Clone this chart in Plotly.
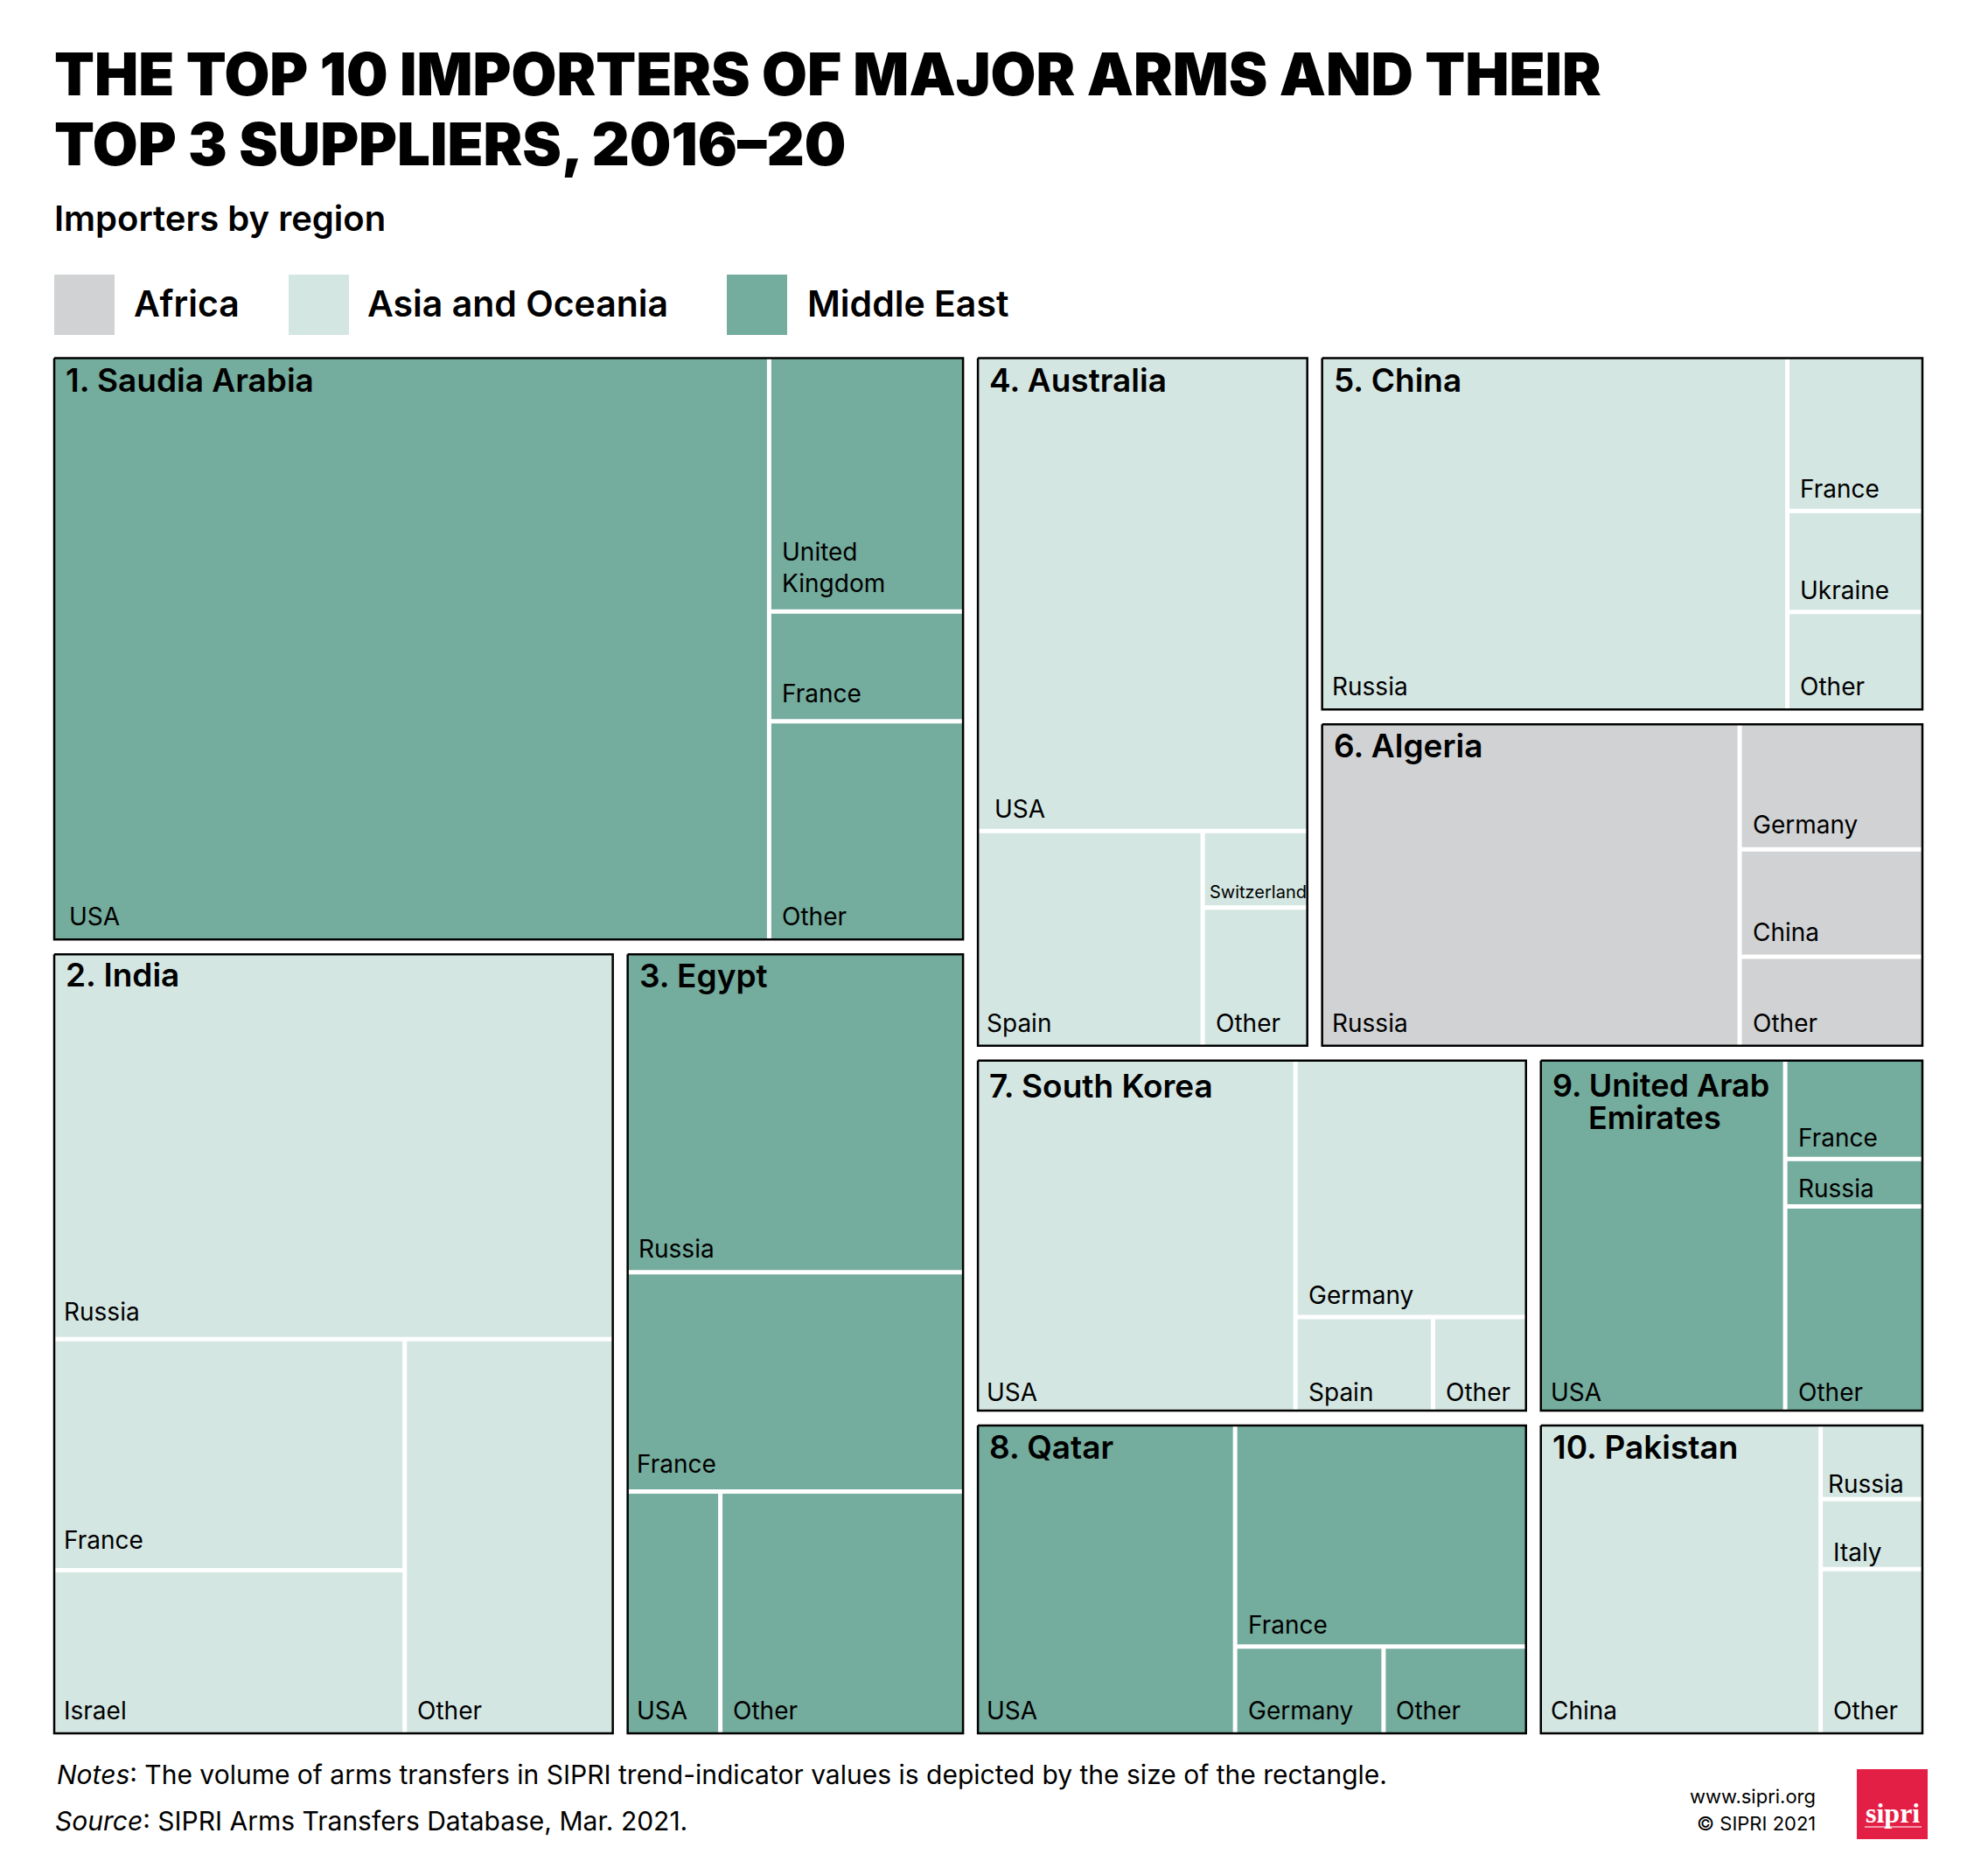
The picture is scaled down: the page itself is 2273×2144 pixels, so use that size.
import plotly.graph_objects as go

# canvas size in px, axes run 1:1 with the page
WIDTH = 2273
HEIGHT = 2144

COLORS = {"Africa": "#d1d2d4", "Asia and Oceania": "#d4e6e2", "Middle East": "#74ac9d"}
REGIONS = ["Africa", "Asia and Oceania", "Middle East"]

IMPORTERS = ["1. Saudia Arabia", "2. India", "3. Egypt", "4. Australia", "5. China",
             "6. Algeria", "7. South Korea", "8. Qatar", "9. United Arab Emirates", "10. Pakistan"]
IMPORTER_REGION = ["Middle East", "Asia and Oceania", "Middle East", "Asia and Oceania",
                   "Asia and Oceania", "Africa", "Asia and Oceania", "Middle East",
                   "Middle East", "Asia and Oceania"]
# rectangle sizes
IMPORTER_SIZE = [11.0, 9.21, 5.53, 4.79, 4.56, 4.17, 4.15, 3.65, 2.89, 2.54]

# supplier shares of each importer (%)
SAUDI = {"USA": 78.8, "United Kingdom": 9.3, "France": 3.9, "Other": 8.0}
INDIA = {"Russia": 49.4, "France": 18.6, "Israel": 13.2, "Other": 18.8}
EGYPT = {"Russia": 41.0, "France": 27.9, "USA": 8.5, "Other": 22.6}
AUSTRALIA = {"USA": 68.9, "Spain": 21.3, "Switzerland": 3.4, "Other": 6.4}
CHINA = {"Russia": 77.7, "France": 9.8, "Ukraine": 6.3, "Other": 6.2}
ALGERIA = {"Russia": 69.7, "Germany": 11.9, "China": 10.0, "Other": 8.4}
SOUTH_KOREA = {"USA": 58.0, "Germany": 30.9, "Spain": 6.6, "Other": 4.5}
QATAR = {"USA": 46.9, "France": 38.3, "Germany": 7.5, "Other": 7.3}
UAE = {"USA": 64.2, "France": 10.1, "Russia": 4.5, "Other": 21.2}
PAKISTAN = {"China": 73.6, "Russia": 6.3, "Italy": 5.8, "Other": 14.3}
SUPPLIERS = [SAUDI, INDIA, EGYPT, AUSTRALIA, CHINA, ALGERIA, SOUTH_KOREA, QATAR, UAE, PAKISTAN]

# how the rectangles nest: "h" = side by side, "v" = stacked
IMPORTER_TREE = ("h", ("v", 0, ("h", 1, 2)),
                 ("v", ("h", 3, ("v", 4, 5)),
                  ("h", ("v", 6, 7), ("v", 8, 9))))
SUPPLIER_TREES = [
    ("h", 0, ("v", 1, 2, 3)),
    ("v", 0, ("h", ("v", 1, 2), 3)),
    ("v", 0, 1, ("h", 2, 3)),
    ("v", 0, ("h", 1, ("v", 2, 3))),
    ("h", 0, ("v", 1, 2, 3)),
    ("h", 0, ("v", 1, 2, 3)),
    ("h", 0, ("v", 1, ("h", 2, 3))),
    ("h", 0, ("v", 1, ("h", 2, 3))),
    ("h", 0, ("v", 1, 2, 3)),
    ("h", 0, ("v", 1, 2, 3)),
]

BOX = (62, 409.5, 2198, 1982)
IMPORTER_GAP = 17
SUPPLIER_GAP = 5

LABEL_FONT = "Inter"


def size_of(node, sizes):
    if isinstance(node, int):
        return sizes[node]
    return sum(size_of(c, sizes) for c in node[1:])


def layout_tree(node, rect, sizes, gap, out):
    if isinstance(node, int):
        out[node] = rect
        return
    x0, y0, x1, y1 = rect
    kids = node[1:]
    total = sum(size_of(k, sizes) for k in kids)
    room = (x1 - x0 if node[0] == "h" else y1 - y0) - gap * (len(kids) - 1)
    pos = x0 if node[0] == "h" else y0
    for k in kids:
        span = room * size_of(k, sizes) / total
        if node[0] == "h":
            layout_tree(k, (pos, y0, pos + span, y1), sizes, gap, out)
        else:
            layout_tree(k, (x0, pos, x1, pos + span), sizes, gap, out)
        pos += span + gap


def rect_trace(rect, fill=None, line=None, width=0, text=""):
    x0, y0, x1, y1 = rect
    return go.Scatter(
        x=[x0, x1, x1, x0, x0], y=[y0, y0, y1, y1, y0], mode="lines",
        fill="toself" if fill else "none", fillcolor=fill,
        line=dict(color=line or fill, width=width),
        hoverinfo="text" if text else "skip", text=text, showlegend=False
    )


fig = go.Figure()
annotations = []


def add_text(x, y, text, size, xanchor="left", yanchor="middle", color="black", weight=400, family=LABEL_FONT):
    annotations.append(dict(
        x=x, y=y, xref="x", yref="y", text=text, showarrow=False, xanchor=xanchor, yanchor=yanchor,
        align="left" if xanchor == "left" else "right", borderpad=0, borderwidth=0,
        font=dict(family=family, size=size, color=color, weight=weight)
    ))


# label nudges in px: (importer index, supplier) -> dx from cell left, dy from cell bottom
LABEL_DX = {
    (0, "USA"): 17, (1, "Russia"): 11, (1, "France"): 11, (1, "Israel"): 11,
    (2, "France"): 10, (2, "USA"): 10, (3, "USA"): 19, (3, "Spain"): 10, (3, "Switzerland"): 5,
    (4, "Russia"): 11, (5, "Russia"): 11, (6, "USA"): 10, (7, "USA"): 10, (8, "USA"): 11,
    (9, "China"): 11, (9, "Russia"): 6,
}
LABEL_DY = {
    (0, "United Kingdom"): -4, (0, "France"): -3,
    (4, "France"): 3, (4, "Ukraine"): 4, (3, "USA"): 3, (3, "Switzerland"): 6,
    (1, "Russia"): -3, (1, "France"): -6, (2, "Russia"): 2, (2, "France"): -3,
    (6, "Germany"): 4, (6, "USA"): 5, (6, "Spain"): 5, (6, "Other"): 5,
    (8, "USA"): 5, (8, "Other"): 5, (8, "France"): 4, (8, "Russia"): 8,
    (7, "France"): 4, (9, "Russia"): 11, (9, "Italy"): 9,
}
NAME_DY = {1: -1, 6: 4, 8: 4}

importer_rects = {}
layout_tree(IMPORTER_TREE, BOX, IMPORTER_SIZE, IMPORTER_GAP, importer_rects)

for i, name in enumerate(IMPORTERS):
    rect = importer_rects[i]
    fill = COLORS[IMPORTER_REGION[i]]
    names = list(SUPPLIERS[i])
    shares = list(SUPPLIERS[i].values())
    cells = {}
    layout_tree(SUPPLIER_TREES[i], rect, shares, SUPPLIER_GAP, cells)
    for j, sup in enumerate(names):
        cell = cells[j]
        fig.add_trace(rect_trace(cell, fill=fill, text=f"{name}: {sup}"))
        dx = LABEL_DX.get((i, sup), 12)
        dy = LABEL_DY.get((i, sup), 0)
        label = "United<br>Kingdom" if sup == "United Kingdom" else sup
        add_text(cell[0] + dx, cell[3] - 9 + dy, label, 20 if sup == "Switzerland" else 28, yanchor="bottom")
    fig.add_trace(rect_trace(rect, line="black", width=2.5))
    top = rect[1] + 2 + NAME_DY.get(i, 0)
    if i == 8:
        # second line hangs under the country name
        add_text(rect[0] + 13, top, "9. United Arab", 36, yanchor="top", weight=600)
        add_text(rect[0] + 54, top + 37, "Emirates", 36, yanchor="top", weight=600)
    else:
        add_text(rect[0] + 13, top, name, 37, yanchor="top", weight=600)

# title block
add_text(62, 84, "THE TOP 10 IMPORTERS OF MAJOR ARMS AND THEIR", 67, weight=900)
add_text(62, 164, "TOP 3 SUPPLIERS, 2016–20", 67, weight=900)
add_text(62, 249, "Importers by region", 40, weight=600)

# legend
swatches = [(62, 131), (330, 399), (831, 900)]
label_x = [153, 420, 923]
shapes = []
for region, (sx0, sx1), lx in zip(REGIONS, swatches, label_x):
    shapes.append(dict(type="rect", xref="x", yref="y", x0=sx0, x1=sx1, y0=314, y1=383,
                       fillcolor=COLORS[region], line_width=0, layer="below"))
    add_text(lx, 347, region, 41, weight=600)

# footer
add_text(65, 2029, "<i>Notes</i>: The volume of arms transfers in SIPRI trend-indicator values is depicted by the size of the rectangle.", 30)
add_text(63, 2082, "<i>Source</i>: SIPRI Arms Transfers Database, Mar. 2021.", 30)
add_text(2076, 2054, "www.sipri.org", 22, xanchor="right")
add_text(2076, 2085, "© SIPRI 2021", 22, xanchor="right")

# logo
shapes.append(dict(type="rect", xref="x", yref="y", x0=2123, x1=2204, y0=2023, y1=2103,
                   fillcolor="#e31f45", line_width=0, layer="below"))
shapes.append(dict(type="line", xref="x", yref="y", x0=2132, x1=2197, y0=2089, y1=2089,
                   line=dict(color="#f6c0ca", width=1.5)))
add_text(2164, 2073, "<b>sipri</b>", 32, xanchor="center", color="white", family="Liberation Serif")

fig.update_layout(
    width=WIDTH, height=HEIGHT, margin=dict(l=0, r=0, t=0, b=0),
    plot_bgcolor="white", paper_bgcolor="white", showlegend=False,
    xaxis=dict(range=[0, WIDTH], visible=False, fixedrange=True),
    yaxis=dict(range=[HEIGHT, 0], visible=False, fixedrange=True),
    annotations=annotations, shapes=shapes
)

fig.write_html("out.html", config={"displayModeBar": False}, post_script="document.body.style.margin='0';")
